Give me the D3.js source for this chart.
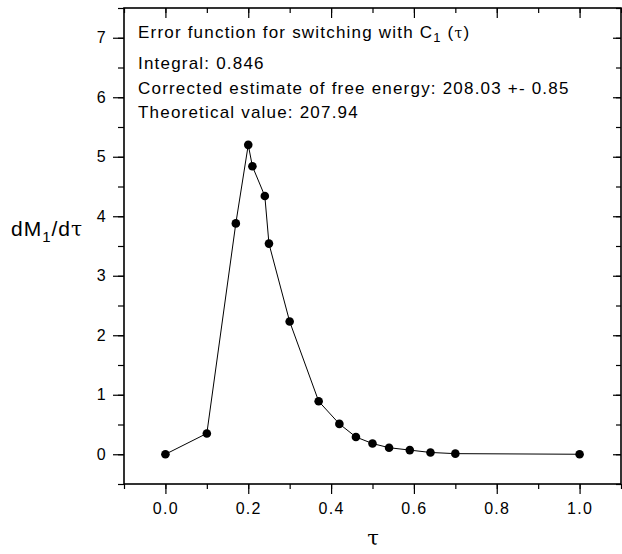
<!DOCTYPE html>
<html>
<head>
<meta charset="UTF-8">
<script src="https://d3js.org/d3.v7.min.js"></script>
<style>
  body { margin: 0; background: #fff; font-family: "Liberation Sans", Arial, sans-serif; }
  .axis path, .axis line { stroke: #000; stroke-width: 1.2; }
  .axis text { font-size: 16px; fill: #000; font-family: "Liberation Sans", Arial, sans-serif; letter-spacing: 1.3px; }
  .note { font-size: 17px; fill: #000; letter-spacing: 1.2px; }
</style>
</head>
<body>
<svg id="chart" width="622" height="554"></svg>
<script>
// values
const tau = [0, 0.1, 0.17, 0.2, 0.21, 0.24, 0.25, 0.3, 0.37, 0.42, 0.46, 0.5, 0.54, 0.59, 0.64, 0.7, 1.0];
const dM  = [0, 0.35, 3.88, 5.2, 4.84, 4.34, 3.54, 2.23, 0.89, 0.51, 0.29, 0.18, 0.11, 0.07, 0.03, 0.01, 0];
const xTicks = [0, 0.2, 0.4, 0.6, 0.8, 1.0];
const yTicks = [0, 1, 2, 3, 4, 5, 6, 7];
const notes = [
  "Integral: 0.846",
  "Corrected estimate of free energy: 208.03 +- 0.85",
  "Theoretical value: 207.94"
];

const data = tau.map((t, i) => ({ t, v: dM[i] }));

const margin = { top: 8, right: 1, bottom: 70, left: 124 },
      width = 622 - margin.left - margin.right,
      height = 554 - margin.top - margin.bottom;

const svg = d3.select("#chart").append("g")
    .attr("transform", `translate(${margin.left},${margin.top})`);

const x = d3.scaleLinear().domain([-0.1, 1.1]).range([0, width]);
const y = d3.scaleLinear().domain([-0.5, 7.5]).range([height, 0]);

const xMinor = d3.range(-0.1, 1.15, 0.1).map(d => +d.toFixed(2));
const yMinor = d3.range(-0.5, 7.6, 0.5);

// minor ticks: outward on bottom/left, inward on top/right
svg.append("g").attr("class", "axis").attr("transform", `translate(0,${height})`)
    .call(d3.axisBottom(x).tickValues(xMinor).tickSize(5).tickFormat(""));
svg.append("g").attr("class", "axis")
    .call(d3.axisBottom(x).tickValues(xMinor).tickSize(5).tickFormat(""));
svg.append("g").attr("class", "axis")
    .call(d3.axisLeft(y).tickValues(yMinor).tickSize(6).tickFormat(""));
svg.append("g").attr("class", "axis").attr("transform", `translate(${width},0)`)
    .call(d3.axisLeft(y).tickValues(yMinor).tickSize(5).tickFormat(""));

// major ticks
svg.append("g").attr("class", "axis").attr("transform", `translate(0,${height})`)
    .call(d3.axisBottom(x).tickValues(xTicks).tickSize(10).tickPadding(9).tickFormat(d3.format(".1f")));
svg.append("g").attr("class", "axis")
    .call(d3.axisLeft(y).tickValues(yTicks).tickSize(11).tickPadding(6).tickFormat(d3.format("d")));
svg.append("g").attr("class", "axis")
    .call(d3.axisBottom(x).tickValues(xTicks).tickSize(10).tickFormat(""));
svg.append("g").attr("class", "axis").attr("transform", `translate(${width},0)`)
    .call(d3.axisLeft(y).tickValues(yTicks).tickSize(8).tickFormat(""));
svg.selectAll(".axis .domain").remove();

// frame
svg.append("rect")
    .attr("width", width).attr("height", height)
    .attr("fill", "none").attr("stroke", "#000").attr("stroke-width", 1.6);

// line + dots
svg.append("path").datum(data)
    .attr("fill", "none").attr("stroke", "#000").attr("stroke-width", 1)
    .attr("d", d3.line().x(d => x(d.t)).y(d => y(d.v)));
svg.selectAll(".dot").data(data).enter().append("circle")
    .attr("class", "dot")
    .attr("cx", d => x(d.t)).attr("cy", d => y(d.v)).attr("r", 4.3)
    .attr("fill", "#000");

// notes
const t1 = svg.append("text").attr("class", "note").attr("x", 14).attr("y", 29.5);
t1.append("tspan").text("Error function for switching with C");
t1.append("tspan").attr("dy", 4).attr("font-size", 13).text("1");
t1.append("tspan").attr("dy", -4).text(" (");
t1.append("tspan").attr("font-family", "'DejaVu Serif', serif").attr("font-size", 14).text("τ");
t1.append("tspan").text(")");
svg.selectAll(".note2").data(notes).enter().append("text")
    .attr("class", "note")
    .attr("x", 14).attr("y", (d, i) => 61 + i * 24.5)
    .text(d => d);

// axis titles
const yl = d3.select("#chart").append("text")
    .attr("x", 11).attr("y", 236).attr("font-size", 21).attr("letter-spacing", 1);
yl.append("tspan").text("dM");
yl.append("tspan").attr("dy", 6).attr("font-size", 15).text("1");
yl.append("tspan").attr("dy", -6).text("/d");
yl.append("tspan").attr("font-family", "'DejaVu Serif', serif").attr("font-size", 20).text("τ");

d3.select("#chart").append("text")
    .attr("x", 373).attr("y", 545).attr("text-anchor", "middle")
    .attr("font-family", "'DejaVu Serif', serif").attr("font-size", 21)
    .text("τ");
</script>
</body>
</html>
